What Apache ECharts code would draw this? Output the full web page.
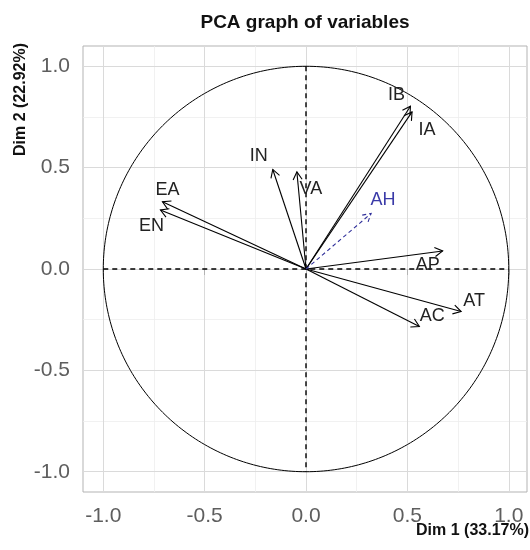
<!DOCTYPE html>
<html>
<head>
<meta charset="utf-8">
<script src="https://cdn.jsdelivr.net/npm/echarts@6/dist/echarts.min.js"></script>
<style>
  html, body { margin: 0; padding: 0; background: #ffffff; }
  #chart { width: 530px; height: 550px; }
</style>
</head>
<body>
<div id="chart"></div>
<script>
// Active variables: coordinates on the first two PCA dimensions
const varNames = ['IB', 'IA', 'IN', 'VA', 'EA', 'EN', 'AP', 'AT', 'AC'];
const varDim1  = [0.515, 0.523, -0.164, -0.045, -0.708, -0.718, 0.674, 0.765, 0.559];
const varDim2  = [0.803, 0.775, 0.491, 0.479, 0.332, 0.291, 0.089, -0.210, -0.284];

// Supplementary variable (drawn dashed, in blue)
const supNames = ['AH'];
const supDim1  = [0.321];
const supDim2  = [0.274];

// Axis ticks
const tickValues  = [-1.0, -0.5, 0.0, 0.5, 1.0];
const minorValues = [-0.75, -0.25, 0.25, 0.75];

const titleText = 'PCA graph of variables';
const xTitle = 'Dim 1 (33.17%)';
const yTitle = 'Dim 2 (22.92%)';

// Label nudges (pixels) around each arrow tip
const labelNudge = {
  IB: [-14, -11], IA: [15, 18], IN: [-14, -13], VA: [14, 17],
  EA: [5, -12], EN: [-9, 16], AP: [-15, 14], AT: [13, -11], AC: [13, -11],
  AH: [12, -13]
};

const FONT = '"Liberation Sans", Arial, sans-serif';

const activeData = varNames.map((n, i) => [varDim1[i], varDim2[i]]);
const supData = supNames.map((n, i) => [supDim1[i], supDim2[i]]);

function arrowRenderer(names, color, textColor, dashed) {
  return function (params, api) {
    const x = api.value(0), y = api.value(1);
    const name = names[params.dataIndex];
    const p0 = api.coord([0, 0]);
    const p1 = api.coord([x, y]);
    const ang = Math.atan2(p1[1] - p0[1], p1[0] - p0[0]);
    const L = 9, th = Math.PI / 6;
    const h1 = [p1[0] - L * Math.cos(ang - th), p1[1] - L * Math.sin(ang - th)];
    const h2 = [p1[0] - L * Math.cos(ang + th), p1[1] - L * Math.sin(ang + th)];
    const ls = { stroke: color, lineWidth: 1.1, fill: null };
    if (dashed) ls.lineDash = [4, 3];
    const nd = labelNudge[name] || [0, -10];
    return {
      type: 'group',
      children: [
        { type: 'line', shape: { x1: p0[0], y1: p0[1], x2: p1[0], y2: p1[1] }, style: ls },
        { type: 'polyline', shape: { points: [h1, p1, h2] }, style: ls },
        { type: 'text', style: {
            text: name, x: p1[0] + nd[0], y: p1[1] + nd[1],
            align: 'center', verticalAlign: 'middle',
            font: '18px ' + FONT, fill: textColor
        } }
      ]
    };
  };
}

const option = {
  backgroundColor: '#ffffff',
  animation: false,
  grid: {
    left: 83, right: 3, top: 46, bottom: 58,
    show: true, borderColor: '#b3b3b3', borderWidth: 1, backgroundColor: 'transparent'
  },
  xAxis: {
    type: 'value', min: -1.1, max: 1.09,
    axisLine: { show: false },
    axisTick: { show: true, customValues: tickValues, length: 6, lineStyle: { color: '#b3b3b3' } },
    axisLabel: { customValues: tickValues, margin: 14, color: '#5e5e5e', fontSize: 21, fontFamily: FONT,
      formatter: v => v.toFixed(1) },
    splitLine: { show: false }
  },
  yAxis: {
    type: 'value', min: -1.1, max: 1.1,
    axisLine: { show: false },
    axisTick: { show: true, customValues: tickValues, length: 6, lineStyle: { color: '#b3b3b3' } },
    axisLabel: { customValues: tickValues, margin: 13, color: '#5e5e5e', fontSize: 21, fontFamily: FONT,
      padding: [4, 0, 0, 0], formatter: v => v.toFixed(1) },
    splitLine: { show: false }
  },
  graphic: [
    { type: 'text', x: 0, y: 0, style: {
        text: titleText, x: 305, y: 23, align: 'center', verticalAlign: 'middle',
        font: 'bold 19px ' + FONT, fill: '#111111' } },
    { type: 'text', x: 0, y: 0, style: {
        text: xTitle, x: 529, y: 531, align: 'right', verticalAlign: 'middle',
        font: 'bold 16px ' + FONT, fill: '#111111' } },
    { type: 'text', x: 21, y: 43, rotation: Math.PI / 2, style: {
        text: yTitle, x: 0, y: 0, align: 'right', verticalAlign: 'middle',
        font: 'bold 16px ' + FONT, fill: '#111111' } }
  ],
  series: [
    // background grid lines
    {
      type: 'line', data: [], silent: true, z: 0,
      markLine: {
        z: 0, silent: true, symbol: 'none', label: { show: false }, animation: false,
        data: []
          .concat(minorValues.map(v => ({ xAxis: v, lineStyle: { color: '#ededed', width: 0.8, type: 'solid' } })))
          .concat(minorValues.map(v => ({ yAxis: v, lineStyle: { color: '#ededed', width: 0.8, type: 'solid' } })))
          .concat(tickValues.map(v => ({ xAxis: v, lineStyle: { color: '#dadada', width: 1, type: 'solid' } })))
          .concat(tickValues.map(v => ({ yAxis: v, lineStyle: { color: '#dadada', width: 1, type: 'solid' } })))
      }
    },
    // correlation circle and dashed axes through the origin
    {
      type: 'custom', silent: true, z: 10, data: [[0, 0]],
      renderItem: function (params, api) {
        const pts = [];
        for (let k = 0; k <= 360; k++) {
          const t = k * Math.PI / 180;
          pts.push(api.coord([Math.cos(t), Math.sin(t)]));
        }
        const a = api.coord([-1, 0]), b = api.coord([1, 0]);
        const c = api.coord([0, 1]), d = api.coord([0, -1]);
        const dash = { stroke: '#000000', lineWidth: 1.4, lineDash: [5, 4], fill: null };
        return {
          type: 'group',
          children: [
            { type: 'polyline', shape: { points: pts }, style: { stroke: '#000000', lineWidth: 1, fill: null } },
            { type: 'line', shape: { x1: a[0], y1: Math.round(a[1]), x2: b[0], y2: Math.round(b[1]) }, style: dash },
            { type: 'line', shape: { x1: Math.round(c[0]), y1: c[1], x2: Math.round(d[0]), y2: d[1] }, style: dash }
          ]
        };
      }
    },
    // active variables
    {
      type: 'custom', silent: true, z: 11, data: activeData,
      renderItem: arrowRenderer(varNames, '#000000', '#222222', false)
    },
    // supplementary variable
    {
      type: 'custom', silent: true, z: 11, data: supData,
      renderItem: arrowRenderer(supNames, '#2f2f9a', '#3a3aa8', true)
    }
  ]
};

const chart = echarts.init(document.getElementById('chart'), null, { renderer: 'canvas' });
chart.setOption(option);
</script>
</body>
</html>
